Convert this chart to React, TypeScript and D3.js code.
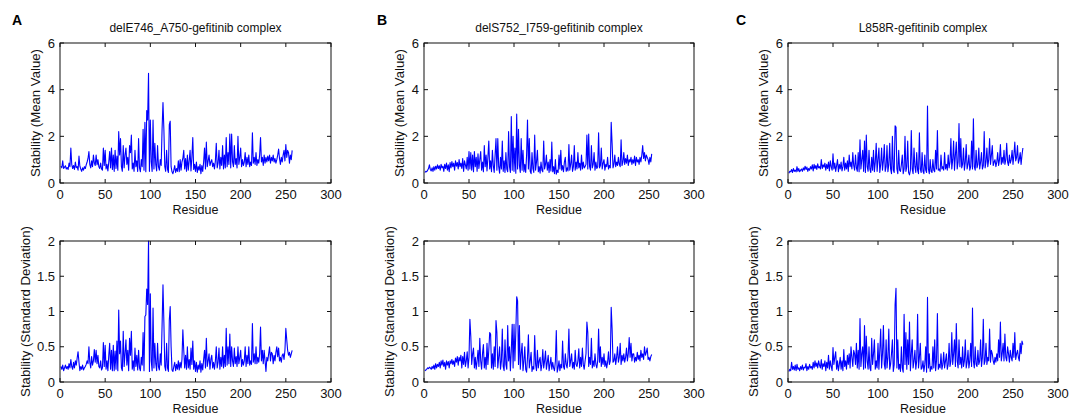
import React from 'react';
import * as d3 from 'd3';

const titles = ['delE746_A750-gefitinib complex', 'delS752_I759-gefitinib complex', 'L858R-gefitinib complex'];
const letters = ['A', 'B', 'C'];
const xTicks = [0, 50, 100, 150, 200, 250, 300];
const meanTicks = [0, 2, 4, 6];
const sdTicks = [0, 0.5, 1, 1.5, 2];

// residues start at 1
const meanA = [
  0.72,0.65,0.95,0.62,0.68,0.74,0.60,0.66,0.58,0.85,
  0.70,1.50,0.80,0.62,0.75,0.58,0.90,0.66,0.70,0.55,
  1.15,0.72,0.60,0.50,0.65,0.55,0.70,0.62,0.78,0.90,
  1.05,1.35,0.80,0.65,0.95,0.70,1.20,0.85,0.75,1.20,
  0.78,1.00,0.70,0.62,0.85,0.60,0.55,1.50,0.75,1.40,
  0.60,0.80,0.52,0.90,1.35,0.65,1.50,0.58,1.20,0.50,
  1.40,0.62,1.15,0.55,2.20,1.20,1.90,0.70,0.50,1.60,
  0.65,1.20,1.50,0.80,1.10,0.55,1.60,1.30,2.05,0.60,
  0.85,0.50,1.40,0.70,0.95,0.50,1.90,0.65,0.48,1.00,
  0.70,2.30,0.55,2.60,0.48,3.10,2.70,4.70,0.50,2.70,
  0.90,0.50,2.70,0.60,1.70,0.80,0.52,1.60,0.70,0.55,
  1.00,0.75,2.30,3.45,2.30,0.70,0.50,1.40,0.60,0.45,
  2.50,2.65,0.70,0.48,0.40,0.55,0.75,0.45,0.62,0.50,
  0.95,0.48,1.00,0.55,0.90,1.05,1.40,0.60,1.05,0.50,
  1.20,0.55,0.95,1.40,0.52,1.10,1.95,0.58,0.80,0.50,
  0.90,0.45,0.70,0.55,0.80,0.40,0.75,0.50,0.90,1.50,
  0.60,1.75,0.70,0.95,1.20,0.75,0.90,1.00,0.70,0.85,
  0.60,0.95,1.70,0.65,0.85,1.40,0.60,1.10,0.75,1.60,
  0.60,1.20,0.65,1.95,0.70,1.30,0.80,2.10,0.65,2.10,
  0.90,0.70,1.60,0.80,1.05,0.65,2.00,0.80,1.10,1.50,
  0.70,1.00,0.75,0.90,1.30,0.70,1.10,0.80,1.20,0.70,
  0.90,0.75,2.15,0.85,1.10,0.80,1.30,0.75,1.00,0.85,
  1.20,1.95,0.90,1.10,0.75,1.20,0.85,1.10,0.90,1.15,
  0.95,1.20,0.85,1.10,0.95,1.20,0.90,1.05,0.85,1.00,
  1.20,1.45,1.05,0.80,1.10,0.90,1.20,1.40,0.95,1.65,
  1.10,1.40,1.30,0.85,1.20,1.00,1.40,
];

const sdA = [
  0.22,0.18,0.24,0.16,0.20,0.24,0.19,0.22,0.18,0.26,
  0.20,0.32,0.22,0.18,0.28,0.20,0.30,0.24,0.34,0.43,
  0.28,0.16,0.22,0.18,0.24,0.17,0.20,0.22,0.25,0.30,
  0.26,0.50,0.28,0.20,0.36,0.24,0.30,0.46,0.28,0.45,
  0.26,0.38,0.22,0.20,0.30,0.17,0.20,0.56,0.22,0.52,
  0.18,0.30,0.16,0.38,0.55,0.18,0.45,0.16,0.52,0.16,
  0.44,0.18,0.58,0.16,1.02,0.40,0.58,0.20,0.16,0.72,
  0.22,0.40,0.60,0.24,0.45,0.16,0.62,0.38,0.72,0.18,
  0.30,0.16,0.48,0.22,0.38,0.17,0.45,0.20,0.16,0.35,
  0.24,0.70,0.16,0.93,0.95,1.32,1.10,2.00,0.15,1.25,
  0.30,0.16,1.05,0.20,0.55,0.26,0.16,0.55,0.22,0.17,
  0.40,0.24,0.80,1.38,0.85,0.22,0.16,0.55,0.20,0.15,
  0.88,1.07,0.50,0.17,0.15,0.22,0.28,0.16,0.25,0.18,
  0.30,0.17,0.28,0.20,0.32,0.74,0.45,0.20,0.38,0.18,
  0.50,0.20,0.32,0.18,0.48,0.25,0.58,0.18,0.30,0.15,
  0.28,0.14,0.24,0.18,0.30,0.14,0.26,0.17,0.32,0.45,
  0.20,0.62,0.22,0.30,0.40,0.18,0.32,0.38,0.20,0.28,
  0.18,0.30,0.50,0.20,0.28,0.48,0.18,0.35,0.22,0.50,
  0.20,0.38,0.22,0.76,0.24,0.50,0.26,0.68,0.22,0.50,
  0.30,0.22,0.48,0.26,0.36,0.22,0.50,0.26,0.35,0.45,
  0.22,0.32,0.24,0.30,0.50,0.22,0.38,0.26,0.50,0.24,
  0.30,0.25,0.83,0.28,0.40,0.26,0.50,0.26,0.35,0.28,
  0.40,0.78,0.30,0.45,0.26,0.45,0.30,0.15,0.35,0.30,
  0.40,0.50,0.30,0.42,0.40,0.26,0.38,0.30,0.42,0.50,
  0.36,0.48,0.30,0.35,0.28,0.38,0.40,0.32,0.45,0.76,
  0.60,0.45,0.38,0.42,0.35,0.40,0.45,
];

const meanB = [
  0.45,0.50,0.48,0.55,0.62,0.78,0.58,0.52,0.65,0.50,
  0.70,0.55,0.72,0.60,0.78,0.62,0.74,0.55,0.80,0.65,
  0.72,0.50,0.80,0.62,0.85,0.55,0.78,0.48,0.88,0.65,
  0.92,0.70,0.85,0.55,0.95,0.72,0.88,0.60,1.00,0.70,
  0.85,0.62,1.05,0.50,0.95,0.78,0.60,1.10,0.55,1.35,
  0.60,1.30,0.55,1.20,0.48,1.35,0.70,1.10,0.50,1.25,
  0.62,1.00,1.35,0.55,0.90,0.48,1.60,0.70,1.20,0.52,
  1.10,1.80,0.60,0.95,0.48,1.40,0.75,0.45,1.20,1.90,
  0.55,1.90,0.70,0.42,1.10,0.60,1.80,0.50,0.95,0.45,
  1.30,0.60,0.48,2.20,0.70,0.45,2.85,0.55,2.00,0.50,
  1.50,0.42,2.95,0.60,2.30,0.75,0.45,1.90,0.55,1.40,
  0.48,0.80,0.45,1.20,2.70,0.60,1.90,0.50,0.40,1.30,
  0.62,0.45,2.05,0.55,0.90,1.40,0.48,0.70,0.42,0.90,
  0.55,0.48,1.80,0.60,0.80,1.20,0.55,0.90,0.45,1.00,
  0.52,1.75,0.48,0.70,0.40,1.00,0.38,0.55,0.45,1.20,
  0.60,1.40,0.55,0.75,0.48,0.90,1.10,0.50,0.65,0.52,
  1.65,0.55,0.80,1.20,0.50,0.70,1.60,0.55,0.90,0.60,
  1.30,0.65,0.85,0.55,1.20,0.60,0.90,0.65,0.70,0.80,
  2.05,0.60,2.10,0.70,0.55,1.60,0.65,0.80,1.30,0.55,
  0.90,0.62,0.70,2.15,0.65,0.75,1.50,0.60,0.85,1.00,
  0.55,0.80,0.70,1.10,0.60,0.75,0.65,2.60,1.70,0.65,
  0.80,1.20,0.70,0.90,0.75,1.10,0.80,0.70,1.85,0.75,
  0.90,1.30,0.80,1.05,0.85,1.20,0.75,1.00,0.90,1.10,
  0.80,1.00,0.85,1.15,0.75,1.10,0.90,1.00,0.80,1.10,
  0.90,1.20,1.60,1.05,1.30,0.95,1.20,1.10,1.00,0.80,
  1.10,0.90,1.25,
];

const sdB = [
  0.16,0.17,0.18,0.20,0.19,0.21,0.20,0.18,0.22,0.19,
  0.24,0.18,0.26,0.20,0.25,0.22,0.28,0.20,0.30,0.24,
  0.31,0.22,0.28,0.18,0.30,0.24,0.29,0.20,0.30,0.26,
  0.32,0.25,0.30,0.22,0.34,0.28,0.36,0.24,0.35,0.30,
  0.38,0.20,0.36,0.25,0.42,0.22,0.30,0.43,0.20,0.35,
  0.89,0.65,0.25,0.40,0.48,0.20,0.35,0.18,0.30,0.45,
  0.22,0.62,0.30,0.18,0.40,0.53,0.20,0.35,0.18,0.55,
  0.25,0.45,0.70,0.68,0.20,0.40,0.18,0.50,0.22,0.87,
  0.70,0.20,0.35,0.50,0.18,0.30,0.75,0.22,0.16,0.60,
  0.25,0.18,0.80,0.30,0.50,0.16,0.45,0.82,0.20,0.82,
  0.30,0.70,1.21,1.15,0.25,0.80,0.18,0.40,0.55,0.16,
  0.30,0.50,0.18,0.14,0.35,0.67,0.20,0.30,0.42,0.15,
  0.22,0.18,0.66,0.25,0.16,0.45,0.20,0.30,0.35,0.16,
  0.25,0.46,0.20,0.30,0.44,0.18,0.28,0.38,0.16,0.25,
  0.35,0.18,0.28,0.20,0.16,0.30,0.73,0.14,0.20,0.30,
  0.16,0.25,0.20,0.58,0.22,0.18,0.40,0.25,0.20,0.35,
  0.75,0.22,0.30,0.40,0.20,0.28,0.18,0.45,0.25,0.22,
  0.30,0.47,0.20,0.35,0.22,0.48,0.25,0.18,0.30,0.40,
  0.85,0.70,0.22,0.35,0.25,0.62,0.20,0.30,0.22,0.40,
  0.25,0.20,0.30,0.75,0.28,0.50,0.22,0.35,0.25,0.40,
  0.22,0.30,0.20,0.28,0.43,0.25,0.30,1.06,0.76,0.28,
  0.30,0.40,0.25,0.35,0.50,0.28,0.35,0.55,0.25,0.38,
  0.30,0.40,0.28,0.35,0.48,0.30,0.40,0.63,0.35,0.55,
  0.30,0.40,0.40,0.28,0.35,0.30,0.42,0.32,0.38,0.30,
  0.45,0.35,0.40,0.32,0.50,0.38,0.42,0.48,0.32,0.35,
  0.30,0.36,0.39,
];

const meanC = [
  0.42,0.50,0.48,0.58,0.45,0.62,0.50,0.55,0.48,0.70,
  0.50,0.62,0.48,0.55,0.60,0.50,0.65,0.55,0.72,0.58,
  0.68,0.50,0.62,0.55,0.70,0.60,0.78,0.52,0.80,0.62,
  0.75,0.58,0.82,0.65,0.70,0.60,1.00,0.62,0.78,0.68,
  0.85,0.55,0.80,0.62,0.90,0.52,0.95,0.70,0.55,1.25,
  0.60,0.85,0.50,0.75,1.00,0.48,0.80,0.60,0.90,0.52,
  0.70,1.10,0.55,0.85,0.60,0.95,0.50,1.20,0.70,0.90,
  0.60,1.30,0.75,0.55,1.20,0.65,0.50,1.30,0.48,1.85,
  0.60,1.00,1.40,0.50,1.80,0.45,2.05,0.70,0.50,1.40,
  0.60,0.45,1.10,0.55,1.40,0.48,0.90,1.70,0.50,1.00,
  1.50,0.45,0.80,1.50,0.55,0.95,1.65,0.50,0.70,1.60,
  0.48,0.80,1.70,0.60,0.40,2.00,0.55,0.45,2.45,2.40,
  0.60,0.40,1.40,0.55,0.50,0.80,1.20,0.40,0.60,2.00,
  0.50,0.70,1.80,0.45,0.35,0.55,2.25,0.60,0.40,1.50,
  0.70,0.45,1.30,0.55,0.40,2.15,0.60,0.45,1.30,0.50,
  0.40,1.20,0.55,0.45,3.30,0.60,0.40,1.00,0.50,0.45,
  1.00,0.55,0.48,1.40,0.60,2.25,0.55,0.60,0.50,1.20,
  0.60,0.70,0.55,1.30,0.60,0.80,0.55,1.20,0.65,0.90,
  1.90,0.60,1.00,1.80,0.55,1.20,1.75,0.60,0.90,2.55,
  0.70,1.90,0.65,0.80,1.50,0.55,0.90,1.65,0.60,0.80,
  1.20,0.55,0.70,1.80,0.60,2.75,0.70,0.55,1.40,0.65,
  0.80,1.50,0.60,0.90,1.30,0.60,0.75,2.20,0.65,0.90,
  1.50,0.70,1.00,1.90,0.80,1.20,1.60,0.75,0.90,1.00,
  0.70,0.90,1.30,0.75,1.00,1.65,0.80,1.10,0.85,1.40,
  0.80,1.00,1.70,0.90,0.75,1.20,0.85,1.00,1.40,0.80,
  1.20,1.75,0.95,1.10,1.60,0.85,1.00,1.30,0.80,1.20,1.50,
];

const sdC = [
  0.15,0.18,0.16,0.28,0.18,0.22,0.17,0.24,0.16,0.25,
  0.18,0.20,0.16,0.22,0.18,0.24,0.17,0.21,0.20,0.26,
  0.16,0.22,0.18,0.25,0.20,0.22,0.18,0.28,0.20,0.30,
  0.22,0.27,0.20,0.30,0.24,0.20,0.32,0.18,0.26,0.22,
  0.30,0.16,0.28,0.20,0.38,0.18,0.30,0.22,0.16,0.49,
  0.25,0.35,0.43,0.18,0.30,0.16,0.25,0.35,0.18,0.30,
  0.16,0.46,0.22,0.30,0.18,0.38,0.25,0.40,0.20,0.50,
  0.35,0.22,0.45,0.40,0.25,0.55,0.20,0.45,0.18,0.90,
  0.22,0.40,0.50,0.18,0.80,0.20,0.65,0.30,0.18,0.50,
  0.20,0.16,0.62,0.25,0.40,0.60,0.18,0.30,0.20,0.55,
  0.18,0.45,0.75,0.20,0.40,0.80,0.25,0.18,0.60,0.20,
  0.35,0.75,0.18,0.25,0.40,0.60,0.15,0.25,1.10,1.33,
  0.20,0.60,0.18,0.25,0.15,0.50,0.20,0.14,0.96,0.25,
  0.70,0.18,0.60,0.25,0.85,0.16,0.40,0.60,0.20,0.30,
  0.45,0.18,0.30,0.96,0.20,0.35,0.55,0.18,0.20,0.30,
  0.15,0.25,0.50,0.14,1.20,0.20,0.40,0.15,0.22,0.18,
  0.50,0.20,0.60,0.16,0.30,0.97,0.18,0.25,0.20,0.40,
  0.18,0.25,0.42,0.20,0.30,0.40,0.18,0.25,0.55,0.22,
  0.30,0.70,0.25,0.40,0.60,0.22,0.83,0.30,0.20,0.60,
  0.25,0.35,0.20,0.50,0.22,0.30,0.60,0.20,0.28,0.45,
  0.20,0.30,0.55,0.22,1.05,0.30,0.20,0.50,0.25,0.22,
  0.45,0.25,0.30,0.60,0.22,0.35,0.89,0.25,0.30,0.55,
  0.25,0.35,0.30,0.75,0.28,0.45,0.40,0.30,0.25,0.35,
  0.28,0.40,0.30,0.60,0.35,0.85,0.30,0.40,0.55,0.30,
  0.68,0.35,0.30,0.50,0.40,0.28,0.45,0.35,0.30,0.55,
  0.35,0.70,0.32,0.40,0.45,0.35,0.30,0.55,0.40,0.58,0.53,
];

const FONT = '"Liberation Sans", Arial, Helvetica, sans-serif';
const TICK = 4;

type PanelProps = {
  left: number; right: number; top: number; bottom: number;
  values: number[]; yMax: number; yTicks: number[]; yLabel: string; yLabelDx: number;
};

const Panel = ({ left, right, top, bottom, values, yMax, yTicks, yLabel, yLabelDx }: PanelProps) => {
  const x = d3.scaleLinear().domain([0, 300]).range([left, right]);
  const y = d3.scaleLinear().domain([0, yMax]).range([bottom, top]);
  const line = d3.line<number>().x((_, i) => x(i + 1)).y(d => y(d));
  const midY = (top + bottom) / 2;
  return (
    <g>
      <path d={line(values) || ''} fill="none" stroke="#0000ff" strokeWidth={1.1} strokeLinejoin="round" />
      <rect x={left} y={top} width={right - left} height={bottom - top} fill="none" stroke="#111" strokeWidth={1} />
      {xTicks.map(t => (
        <g key={'x' + t}>
          <line x1={x(t)} x2={x(t)} y1={bottom} y2={bottom - TICK} stroke="#111" />
          <line x1={x(t)} x2={x(t)} y1={top} y2={top + TICK} stroke="#111" />
          <text x={x(t)} y={bottom + 15.5} textAnchor="middle" fontSize={13} fill="#111">{t}</text>
        </g>
      ))}
      {yTicks.map(t => (
        <g key={'y' + t}>
          <line x1={left} x2={left + TICK} y1={y(t)} y2={y(t)} stroke="#111" />
          <line x1={right} x2={right - TICK} y1={y(t)} y2={y(t)} stroke="#111" />
          <text x={left - 5} y={y(t)} dy="0.36em" textAnchor="end" fontSize={13} fill="#111">{d3.format('~g')(t)}</text>
        </g>
      ))}
      <text x={(left + right) / 2} y={bottom + 31} textAnchor="middle" fontSize={12.5} fill="#111">Residue</text>
      <text transform={`translate(${left + yLabelDx},${midY}) rotate(-90)`} dy="0.36em" textAnchor="middle" fontSize={13.2} fill="#111">{yLabel}</text>
    </g>
  );
};

const cols = [
  { left: 60, right: 331, letterX: 12 },
  { left: 424, right: 694, letterX: 377 },
  { left: 788, right: 1058, letterX: 736 },
];
const means = [meanA, meanB, meanC];
const sds = [sdA, sdB, sdC];

export default function App() {
  return (
    <svg width={1079} height={416} style={{ position: 'absolute', left: 0, top: 0, background: '#fff' }} fontFamily={FONT}>
      <rect width={1079} height={416} fill="#fff" />
      {cols.map((c, i) => (
        <g key={i}>
          <text x={c.letterX} y={25} fontSize={14} fontWeight="bold" fill="#000">{letters[i]}</text>
          <text x={(c.left + c.right) / 2} y={32} textAnchor="middle" fontSize={12} fill="#111">{titles[i]}</text>
          <Panel left={c.left} right={c.right} top={43} bottom={183} values={means[i]} yMax={6} yTicks={meanTicks}
            yLabel="Stability (Mean Value)" yLabelDx={-25} />
          <Panel left={c.left} right={c.right} top={241} bottom={382} values={sds[i]} yMax={2} yTicks={sdTicks}
            yLabel="Stability (Standard Deviation)" yLabelDx={-35} />
        </g>
      ))}
    </svg>
  );
}
